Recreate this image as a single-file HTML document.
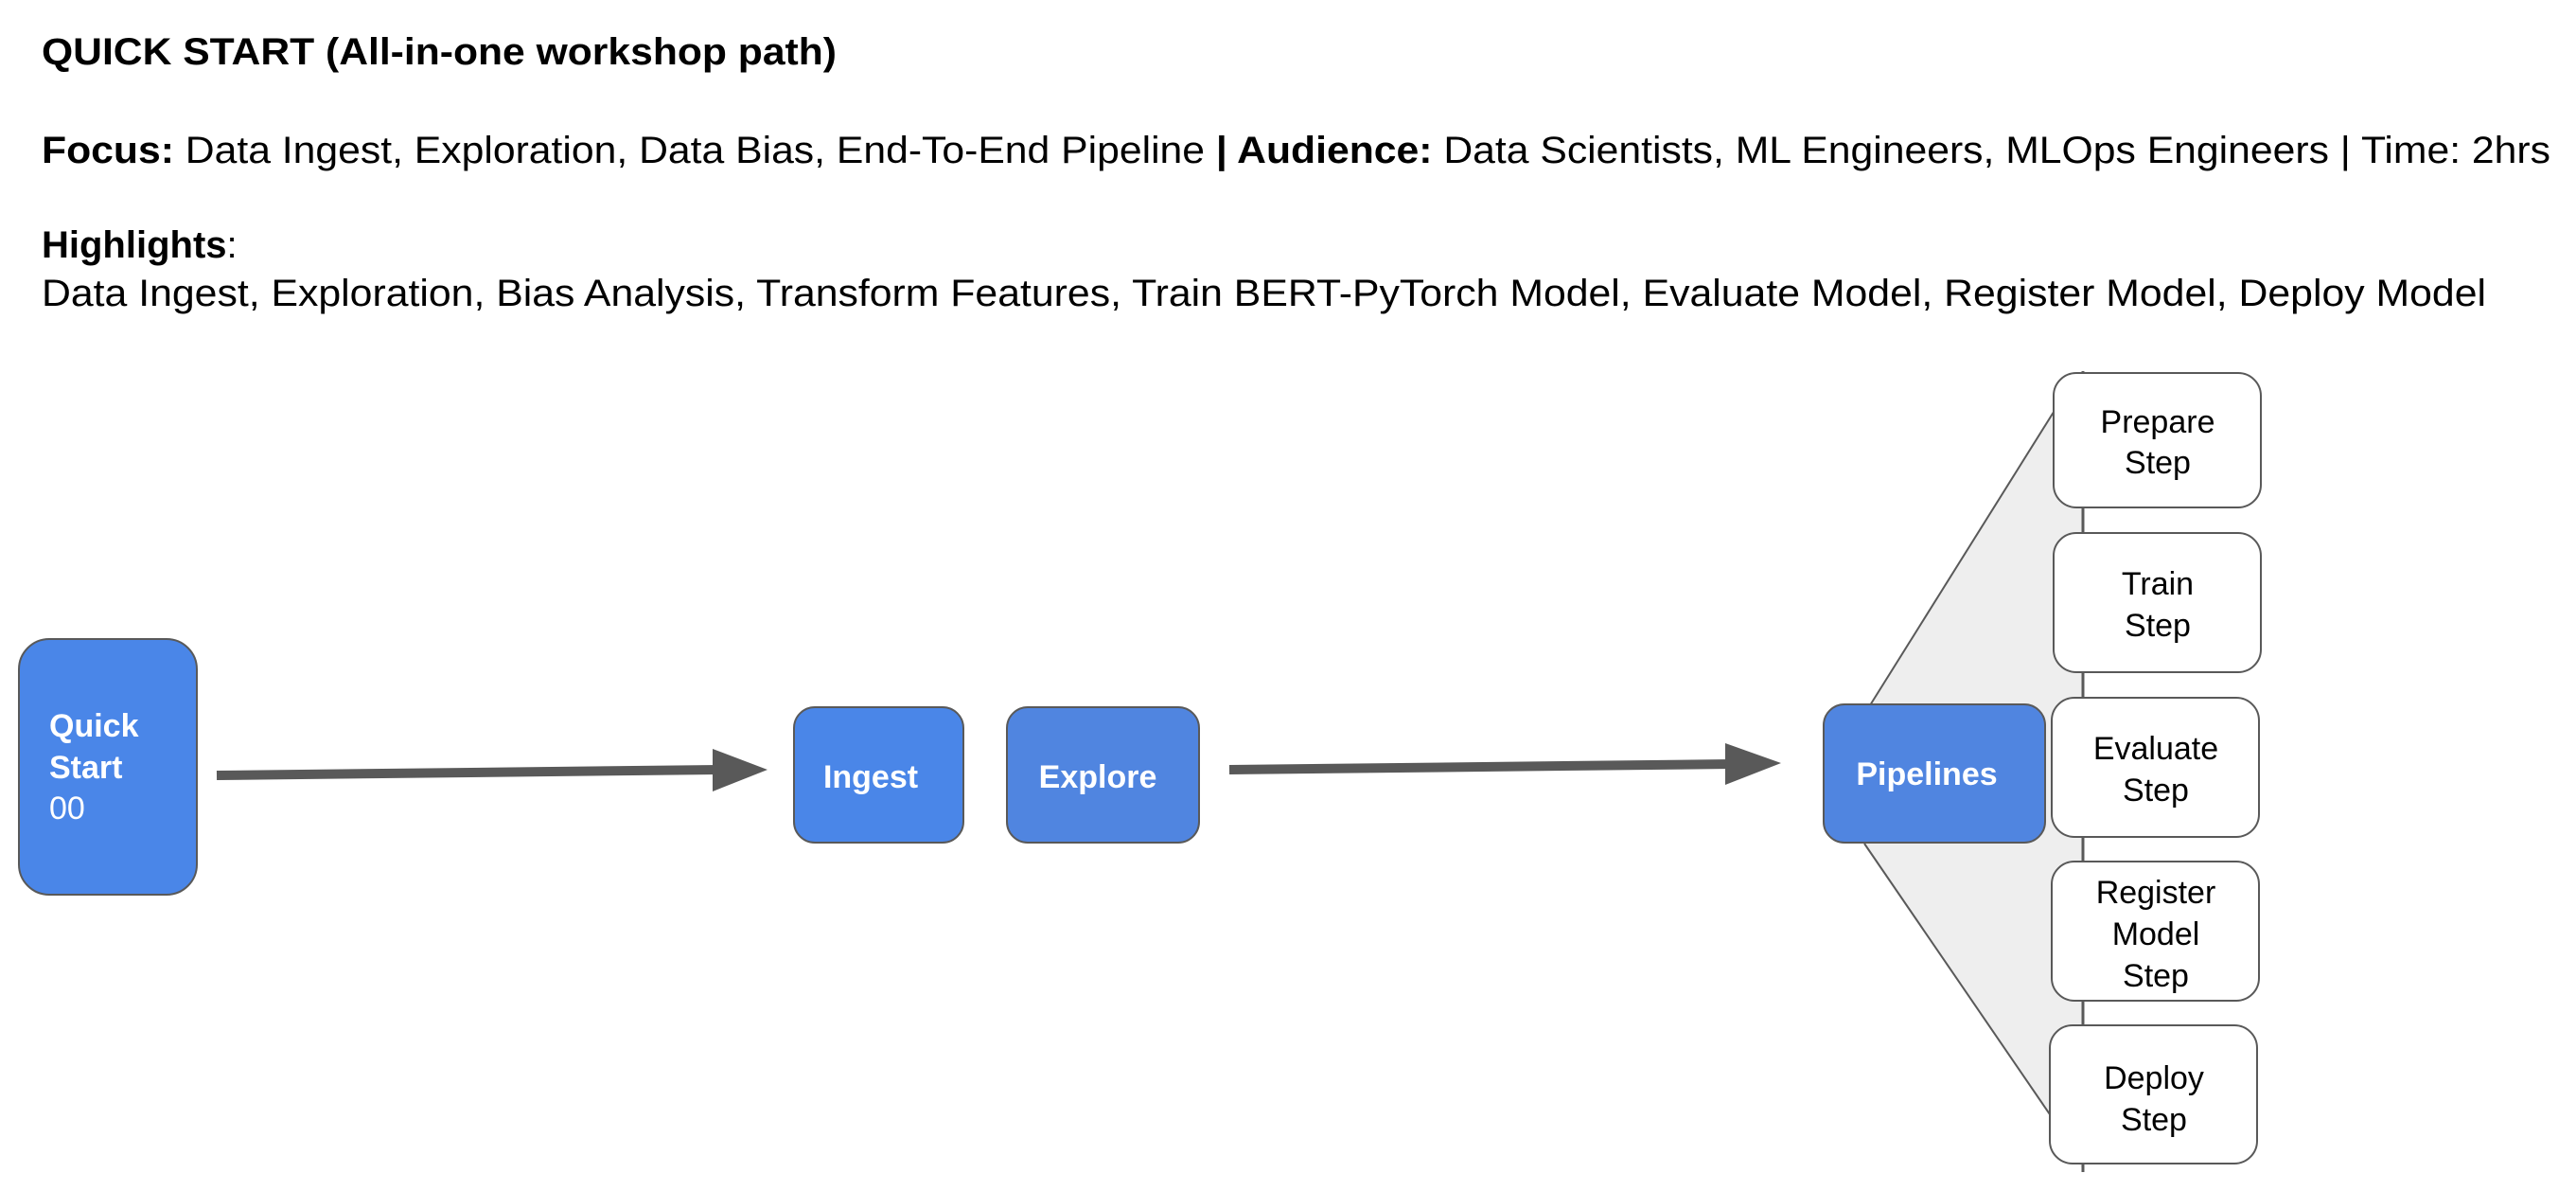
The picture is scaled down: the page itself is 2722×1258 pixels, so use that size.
<!DOCTYPE html>
<html><head><meta charset="utf-8"><style>
html,body{margin:0;padding:0;background:#fff;}
svg{display:block;}
text{font-family:"Liberation Sans",Arial,sans-serif;}
</style></head><body>
<svg width="2722" height="1258" viewBox="0 0 2722 1258" xmlns="http://www.w3.org/2000/svg">
<rect width="2722" height="1258" fill="#fff"/>
<g font-size="40" fill="#000">
<text x="44" y="68" font-weight="bold" textLength="840" lengthAdjust="spacingAndGlyphs">QUICK START (All-in-one workshop path)</text>
<text x="44" y="172" textLength="2651" lengthAdjust="spacingAndGlyphs"><tspan font-weight="bold">Focus:</tspan> Data Ingest, Exploration, Data Bias, End-To-End Pipeline <tspan font-weight="bold">| Audience:</tspan> Data Scientists, ML Engineers, MLOps Engineers | Time: 2hrs</text>
<text x="44" y="272"><tspan font-weight="bold">Highlights</tspan>:</text>
<text x="44" y="323" textLength="2583" lengthAdjust="spacingAndGlyphs">Data Ingest, Exploration, Bias Analysis, Transform Features, Train BERT-PyTorch Model, Evaluate Model, Register Model, Deploy Model</text>
</g>
<polygon points="1976,745 2172,432 2201,396 2201,1236 2168,1180 1970,891" fill="#eeeeee"/>
<line x1="1976" y1="745" x2="2172" y2="432" stroke="#595959" stroke-width="2"/>
<line x1="1970" y1="891" x2="2168" y2="1180" stroke="#595959" stroke-width="2"/>
<line x1="2201" y1="392" x2="2201" y2="1238" stroke="#595959" stroke-width="3"/>
<line x1="229" y1="819" x2="760" y2="813" stroke="#595959" stroke-width="10"/>
<polygon points="753,791 811,813 753,836" fill="#595959"/>
<line x1="1299" y1="813" x2="1830" y2="807" stroke="#595959" stroke-width="10"/>
<polygon points="1823,785 1882,806 1823,829" fill="#595959"/>
<rect x="20" y="675" width="188" height="270" rx="32" fill="#4a86e8" stroke="#595959" stroke-width="2"/>
<g fill="#fff" font-size="34">
<text x="52" y="778" font-weight="bold">Quick</text>
<text x="52" y="822" font-weight="bold">Start</text>
<text x="52" y="865">00</text>
</g>
<rect x="839" y="747" width="179" height="143" rx="22" fill="#4a86e8" stroke="#595959" stroke-width="2"/>
<text x="920" y="832" fill="#fff" font-size="34" font-weight="bold" text-anchor="middle">Ingest</text>
<rect x="1064" y="747" width="203" height="143" rx="22" fill="#5085e0" stroke="#595959" stroke-width="2"/>
<text x="1160" y="832" fill="#fff" font-size="34" font-weight="bold" text-anchor="middle">Explore</text>
<rect x="1927" y="744" width="234" height="146" rx="22" fill="#5085e0" stroke="#595959" stroke-width="2"/>
<text x="2036" y="829" fill="#fff" font-size="34" font-weight="bold" text-anchor="middle">Pipelines</text>
<g fill="#fff" stroke="#595959" stroke-width="2">
<rect x="2170" y="394" width="219" height="142" rx="24"/>
<rect x="2170" y="563" width="219" height="147" rx="24"/>
<rect x="2168" y="737" width="219" height="147" rx="24"/>
<rect x="2168" y="910" width="219" height="147" rx="24"/>
<rect x="2166" y="1083" width="219" height="146" rx="24"/>
</g>
<g font-size="34" fill="#000" text-anchor="middle">
<text x="2280" y="457">Prepare</text><text x="2280" y="500">Step</text>
<text x="2280" y="628">Train</text><text x="2280" y="672">Step</text>
<text x="2278" y="802">Evaluate</text><text x="2278" y="846">Step</text>
<text x="2278" y="954">Register</text><text x="2278" y="998">Model</text><text x="2278" y="1042">Step</text>
<text x="2276" y="1150">Deploy</text><text x="2276" y="1194">Step</text>
</g>
</svg>
</body></html>
